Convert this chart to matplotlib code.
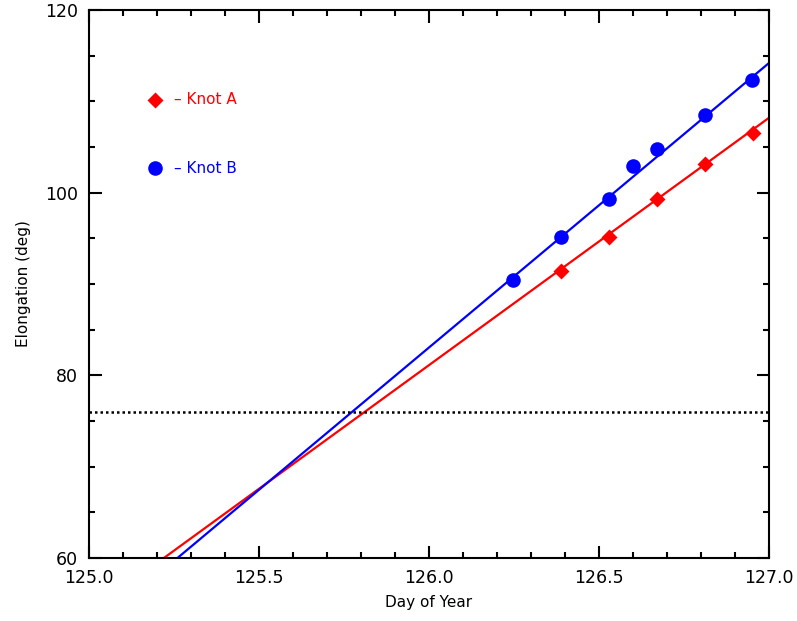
import numpy as np
import matplotlib
matplotlib.use("Agg")
import matplotlib.pyplot as plt
from matplotlib.ticker import MultipleLocator

# Knot A (red diamonds)
day_a = [126.388, 126.528, 126.670, 126.811, 126.953]
elong_a = [91.4, 95.2, 99.3, 103.1, 106.5]

# Knot B (blue circles)
day_b = [126.247, 126.388, 126.528, 126.601, 126.670, 126.811, 126.950]
elong_b = [90.4, 95.2, 99.3, 102.9, 104.75, 108.5, 112.3]

# fitted lines: (day, elongation) end points
fit_a_day = [125.22, 127.0]
fit_a_elong = [60.0, 108.2]
fit_b_day = [125.26, 127.0]
fit_b_elong = [60.0, 114.2]

threshold = 76.0


def main():
	fig = plt.figure(figsize=(7.97, 6.21), dpi=100)
	ax = fig.add_axes([0.1117, 0.1014, 0.8532, 0.8825])

	ax.plot(fit_a_day, fit_a_elong, color='#ff0000', lw=1.6)
	ax.plot(fit_b_day, fit_b_elong, color='#0000ff', lw=1.6)
	ax.plot(day_a, elong_a, 'D', color='#ff0000', ms=8, mec='none')
	ax.plot(day_b, elong_b, 'o', color='#0000ff', ms=10.5, mec='none')
	ax.axhline(threshold, color='black', ls=(0, (1, 1.2)), lw=1.8)

	# legend drawn IDL style
	ax.plot([125.194], [110.15], 'D', color='#ff0000', ms=8, mec='none')
	ax.plot([125.194], [102.7], 'o', color='#0000ff', ms=10.5, mec='none')
	ax.text(125.25, 110.15, u'\u2013 Knot A', color='#ff0000', fontsize=11, va='center')
	ax.text(125.25, 102.7, u'\u2013 Knot B', color='#0000ff', fontsize=11, va='center')

	ax.set_xlim(125.0, 127.0)
	ax.set_ylim(60, 120)
	ax.xaxis.set_major_locator(MultipleLocator(0.5))
	ax.xaxis.set_minor_locator(MultipleLocator(0.1))
	ax.yaxis.set_major_locator(MultipleLocator(20))
	ax.yaxis.set_minor_locator(MultipleLocator(5))
	ax.xaxis.set_major_formatter(matplotlib.ticker.FormatStrFormatter('%.1f'))
	ax.tick_params(which='both', direction='in', top=True, right=True, width=1.5)
	ax.tick_params(which='major', length=9, labelsize=12.5, pad=8)
	ax.tick_params(which='minor', length=4.5)
	for s in ax.spines.values():
		s.set_linewidth(1.5)

	ax.set_xlabel('Day of Year', fontsize=11, labelpad=6)
	ax.set_ylabel('Elongation (deg)', fontsize=11, labelpad=10)

	fig.savefig('out.png', dpi=100)


if __name__ == '__main__':
	main()
